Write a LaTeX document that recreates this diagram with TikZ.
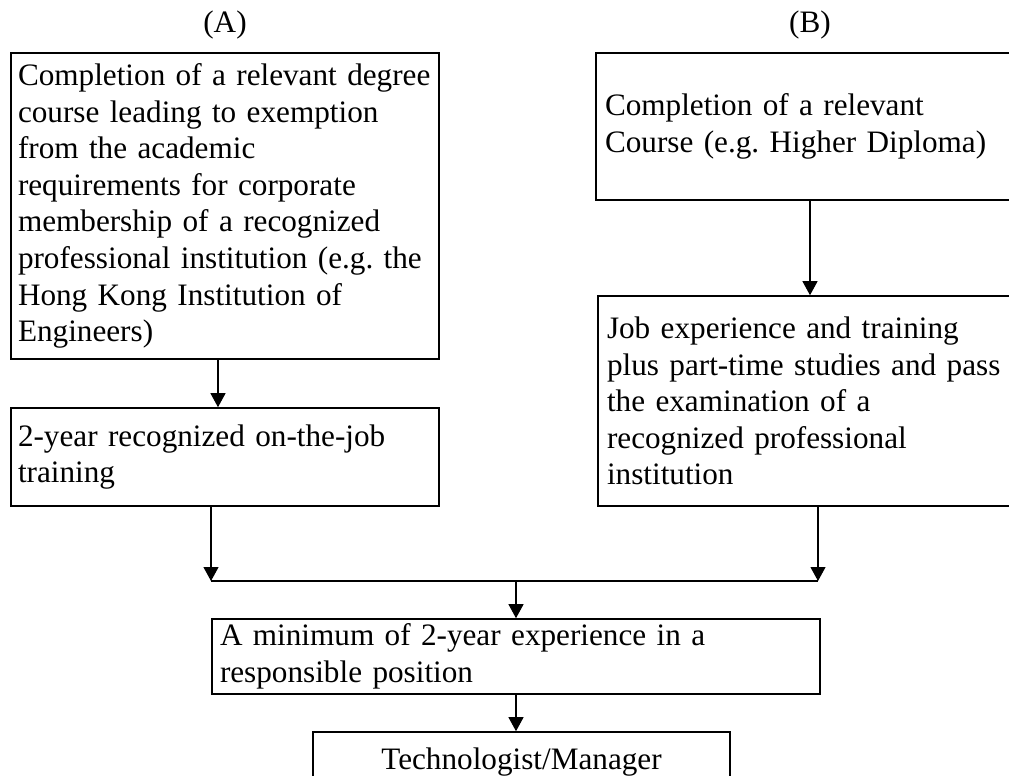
\documentclass[tikz,border=0pt]{standalone}
\usepackage{fontspec}
\setmainfont{Liberation Serif}
\usetikzlibrary{arrows.meta}
\frenchspacing
\hyphenpenalty=10000\relax
\begin{document}
\begin{tikzpicture}[x=1pt,y=-1pt,
  box/.style={draw, line width=1.6pt, rectangle, inner xsep=7pt, inner ysep=0pt,
    align=left, font=\fontsize{31.2}{36.6}\selectfont},
  lbl/.style={font=\fontsize{31.2}{36.6}\selectfont, inner sep=0pt},
  arr/.style={line width=1.1pt, -{Triangle[length=14pt,width=15pt]}},
  ln/.style={line width=1.6pt}]
\useasboundingbox (0,0) rectangle (1009,776);
\clip (0,0) rectangle (1009,776);
\node[lbl, anchor=base] (la) at (225,33) {(A)};
\node[lbl, anchor=base] (lb) at (810,33) {(B)};
\node[box, minimum width=428pt, minimum height=306pt, text width=414pt] (A1) at (225,206)
 {Completion of a relevant degree\\course leading to exemption\\from the academic\\requirements for corporate\\membership of a recognized\\professional institution (e.g. the\\Hong Kong Institution of\\Engineers)};
\node[box, minimum width=417pt, minimum height=147pt, text width=403pt, inner xsep=9pt] (B1) at (806.5,126.5)
 {Completion of a relevant\\Course (e.g. Higher Diploma)};
\node[box, minimum width=428pt, minimum height=98pt, text width=414pt] (A2) at (225,457)
 {2-year recognized on-the-job\\training};
\node[box, minimum width=417pt, minimum height=210pt, text width=399pt, inner xsep=9pt] (B2) at (806.5,401)
 {Job experience and training\\plus part-time studies and pass\\the examination of a\\recognized professional\\institution};
\node[box, minimum width=608pt, minimum height=75pt, text width=592pt, inner xsep=8pt] (C) at (516,656.5)
 {A minimum of 2-year experience in a\\responsible position};
\node[box, minimum width=417pt, minimum height=61pt, align=center, text width=403pt] (D) at (521.5,762.5)
 {Technologist/Manager};
\coordinate (jA) at (211,581);
\coordinate (jB) at (818,581);
\coordinate (jC) at (516,581);
\draw[arr] ([xshift=-7pt]A1.south) -- ([xshift=-7pt]A2.north);
\draw[arr] ([xshift=3.5pt]B1.south) -- ([xshift=3.5pt]B2.north);
\draw[arr] (A2.south -| jA) -- (jA);
\draw[arr] (B2.south -| jB) -- (jB);
\draw[ln] (jA) -- (jB);
\draw[arr] (jC) -- (C.north -| jC);
\draw[arr] (C.south) -- (D.north -| C.south);
\end{tikzpicture}
\end{document}
